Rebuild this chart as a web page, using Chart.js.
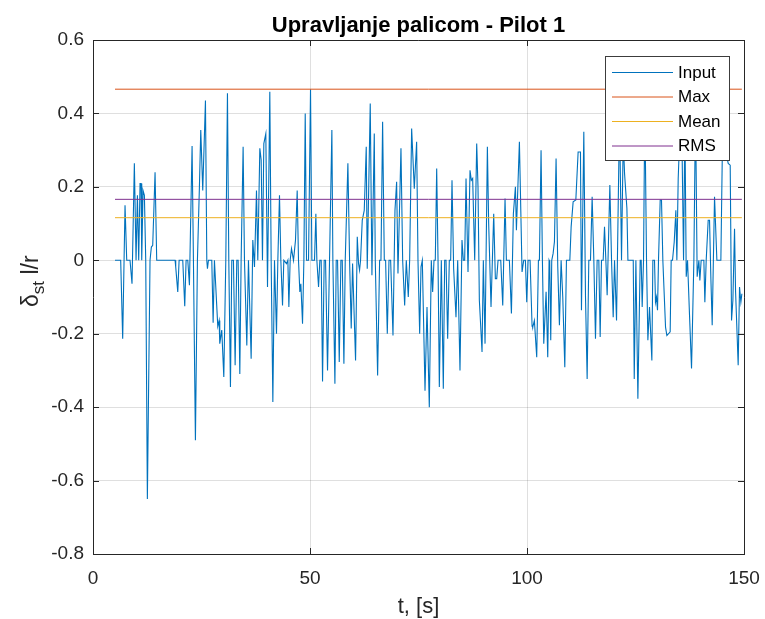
<!DOCTYPE html>
<html>
<head>
<meta charset="utf-8">
<script src="https://cdn.jsdelivr.net/npm/chart.js@4/dist/chart.umd.min.js"></script>
<style>
  html, body { margin: 0; padding: 0; background: #ffffff; }
  #wrap { width: 765px; height: 619px; }
</style>
</head>
<body>
<div id="wrap"><canvas id="c" width="765" height="619"></canvas></div>
<script>
// ---- data ----
const chartTitle = 'Upravljanje palicom - Pilot 1';
const xLabel = 't, [s]';
const seriesLabels = ['Input', 'Max', 'Mean', 'RMS'];
const xTicks = [0, 50, 100, 150];
const yTicks = [-0.8, -0.6, -0.4, -0.2, 0, 0.2, 0.4, 0.6];

const time1 = [5.07,6.38,6.84,7.38,7.77,8.53,8.99,9.53,9.92,10.23,10.53,10.84,11.07,11.23,11.53,11.84,12.15,12.53,13.14,13.45,13.76,14.3,14.68,18.91,19.06,19.53,19.84,20.68,21.14,21.45,21.84,22.22,22.83,23.14,23.6,24.06,24.52,24.83,25.29,25.91,26.22,26.37,26.6,27.37,27.68,27.98];
const stick1 = [0,0,-0.214,0.15,0,0,-0.064,0.264,0,0.177,0,0.209,0.209,0,0.19,0.177,0,-0.65,0,0.036,0.041,0.24,0,0,-0.018,-0.086,0,0,-0.125,0,0,-0.068,0.311,0,-0.49,0,0.2,0.355,0.19,0.435,0,-0.023,0,0,-0.17,0];

const time2 = [28.75,29.06,29.21,29.67,30.14,30.6,30.98,31.29,31.67,31.98,32.36,32.75,33.13,33.44,33.83,34.13,34.59,34.9,35.44,35.82,36.44,36.82,37.21,37.67,37.97,38.44,38.75,39.05,39.36,39.82,40.21,40.74,41.05,41.44,41.82,42.28,42.59,42.97,43.28,43.67,43.97,44.59,44.9,45.13,45.43,45.74,46.2,46.66,47.05,47.35,47.66,47.89,48.28,48.59,48.9,49.2,49.66,50.12,50.43,51.04,51.35,51.58,51.97,52.27,52.58,52.89];
const stick2 = [-0.18,-0.164,-0.227,-0.19,-0.318,0,0.455,0,-0.345,0,0,-0.286,0,0,-0.31,0,0.309,0,-0.232,0,-0.268,0.055,-0.018,0.19,0,0.305,0.273,0,0.318,0.345,-0.073,0.459,0,-0.386,0,-0.2,0,0.177,0,-0.123,0,-0.009,0,-0.127,0,0.032,0,0.055,0.19,0,-0.086,-0.064,-0.173,0,0.4,0,0,0.466,0,0,0.127,0,-0.073,0,0,-0.33];

const time3 = [53.27,53.58,54.04,54.5,55.04,55.27,55.74,56.04,56.35,56.74,57.12,57.43,57.81,58.12,58.73,59.12,59.5,59.81,60.5,60.89,61.19,61.42,61.65,62.04,62.5,62.96,63.19,63.88,64.27,64.81,65.04,65.58,66.04,66.35,66.73,67.12,67.42,67.81,68.2,68.58,69.12,69.58,69.96,70.27,70.96,71.35,71.81,72.19,72.65,72.96,73.42,74.03,74.57,74.88,75.27,75.58,75.88,76.5,76.96];
const stick3 = [0,0,-0.3,0,0.355,0,-0.336,0,0,-0.277,0,0,-0.282,0,0.264,0,-0.186,-0.009,-0.273,0.064,-0.009,-0.027,0,0.109,0.136,0.309,-0.023,0.427,-0.041,0.345,0,-0.314,0,0,0.377,0,0,-0.2,0,0,-0.205,0.136,0.214,-0.036,0.305,0,-0.123,0,-0.1,0,0.359,0.195,0.323,0,-0.2,-0.018,0,-0.355,-0.127];

const time4 = [77.18,77.49,77.95,78.26,78.57,78.87,79.19,79.5,79.8,80.26,80.72,81.03,81.34,81.72,82.1,82.41,82.72,83.1,83.64,84.03,84.56,85.02,85.33,85.64,85.95,86.41,86.87,87.17,87.48,87.95,88.41,88.71,89.02,89.64,89.94,90.33,90.87,91.17,91.71,92.33,92.71,93.02,93.33,93.95,94.41,94.94,95.25,95.94,96.41,96.86,97.33,97.56,98.25,98.86,99.25,99.63,99.94,100.25,100.71,101.17];
const stick4 = [-0.127,-0.4,0,-0.086,0,0,0.25,0,-0.345,0,-0.35,0,0,-0.214,0,0,0.218,-0.023,-0.155,0,-0.3,0.055,0,0,0.223,-0.032,0.245,0.218,0.223,0,0.318,0.2,-0.109,-0.25,0,-0.227,0.309,0.1,-0.127,0.127,-0.05,-0.05,0,0,-0.123,0.168,0,0,-0.145,0.127,0.2,0.082,0.323,-0.032,0,0,-0.114,0,0,-0.18];

const time5 = [101.32,101.7,102.24,102.63,102.86,103.24,103.55,103.86,104.4,104.78,105.09,105.24,105.47,105.7,106.01,106.32,106.7,107.09,107.47,107.86,108.24,108.71,109.09,109.87,110.17,110.63,111.25,111.78,112.32,112.55,113.09,113.48,113.86,114.24,114.63,115.01,115.4,115.78,116.16,116.55,116.86,117.16,117.55,117.86,118.17,118.47,119.09,119.48,119.86,120.17,120.63,121.32,121.78,122.17,122.48,123.02,123.25,124.48,124.71,125.09,125.55];
const stick5 = [-0.182,-0.164,-0.264,0,0,0.3,0,-0.227,-0.086,-0.264,0,-0.005,-0.218,0,0.018,0.05,0.277,-0.018,-0.177,0,-0.1,-0.291,0,0,0.091,0.159,0.164,0.295,0.295,-0.136,0.35,-0.1,-0.323,0,0,0.173,0,-0.214,0,0,-0.209,0,0,0.091,0,-0.095,0.205,0,-0.155,0,-0.164,0.4,0,0.33,0.236,0.141,0,0,-0.323,0,-0.377];

const time6 = [126.08,126.31,126.54,126.85,127.15,127.54,127.85,128.23,128.77,129.0,129.38,129.61,129.84,130.07,130.3,130.69,130.99,131.3,131.61,131.92,132.23,132.99,133.22,133.53,133.92,134.3,134.53,134.84,135.23,135.76,136.07,136.38,136.69,136.99,137.45,137.91,138.45,138.83,139.21,139.6,139.83,140.13,140.75,140.98,141.29,141.75,142.06,142.37,142.67,143.21,143.75,144.67,145.13,145.74,146.36,146.82,147.13,147.44,147.82,148.05,148.66,148.97,149.28,149.51];
const stick6 = [0,0,-0.127,0,0.42,0,-0.218,-0.127,-0.273,0,0,-0.114,-0.1,-0.136,0,0.164,0.164,0,-0.091,-0.182,-0.205,-0.195,0,0,0.05,0.136,0,0.223,0.35,0.273,0,0.38,-0.045,0,-0.15,-0.295,0,0.42,-0.045,0,-0.055,0,0,-0.114,0,0.109,0.109,-0.05,-0.177,0.173,0,0,0.4,0.3,0.264,0.259,-0.164,-0.109,0.086,-0.082,-0.286,-0.073,-0.114,-0.091];

const maxValue = 0.466;
const meanValue = 0.116;
const rmsValue = 0.166;

// ---- build datasets ----
const time = [].concat(time1, time2, time3, time4, time5, time6);
const stick = [].concat(stick1, stick2, stick3, stick4, stick5, stick6);
const inputPoints = time.map((t, i) => ({ x: t, y: stick[i] }));
const tStart = time[0], tEnd = time[time.length - 1];
const hLine = v => [{ x: tStart, y: v }, { x: tEnd, y: v }];

const FONT = "'Liberation Sans', Arial, Helvetica, sans-serif";
const AXIS_COLOR = '#262626';
const colors = ['#0072BD', '#D95319', '#EDB120', '#7E2F8E'];

const PLOT = { left: 93, right: 744, top: 40, bottom: 554 };

const decorPlugin = {
  id: 'decor',
  afterDraw(chart) {
    const ctx = chart.ctx;
    const a = chart.chartArea;
    const xs = chart.scales.x, ys = chart.scales.y;
    ctx.save();
    // box (top & right)
    ctx.strokeStyle = AXIS_COLOR;
    ctx.lineWidth = 1;
    ctx.beginPath();
    ctx.moveTo(a.left, a.top + 0.5); ctx.lineTo(a.right + 0.5, a.top + 0.5);
    ctx.moveTo(a.right + 0.5, a.top); ctx.lineTo(a.right + 0.5, a.bottom + 0.5);
    ctx.stroke();
    // inward tick marks
    const tl = 6;
    ctx.beginPath();
    xTicks.forEach(v => {
      const px = Math.round(xs.getPixelForValue(v)) + 0.5;
      ctx.moveTo(px, a.bottom); ctx.lineTo(px, a.bottom - tl);
      ctx.moveTo(px, a.top); ctx.lineTo(px, a.top + tl);
    });
    yTicks.forEach(v => {
      const py = Math.round(ys.getPixelForValue(v)) + 0.5;
      ctx.moveTo(a.left, py); ctx.lineTo(a.left + tl, py);
      ctx.moveTo(a.right, py); ctx.lineTo(a.right - tl, py);
    });
    ctx.stroke();

    // legend
    const lx = 605.5, ly = 56.5, lw = 124, lh = 104;
    ctx.fillStyle = '#ffffff';
    ctx.fillRect(lx, ly, lw, lh);
    ctx.strokeStyle = '#3c3c3c';
    ctx.strokeRect(lx, ly, lw, lh);
    ctx.font = '17px ' + FONT;
    ctx.textBaseline = 'middle';
    ctx.textAlign = 'left';
    chart.data.datasets.forEach((ds, i) => {
      const ry = 72 + i * 24.5;
      ctx.strokeStyle = ds.borderColor;
      ctx.lineWidth = 1;
      ctx.beginPath();
      ctx.moveTo(612, ry + 0.5); ctx.lineTo(673, ry + 0.5);
      ctx.stroke();
      ctx.fillStyle = '#000000';
      ctx.fillText(ds.label, 678, ry + 1);
    });

    // title
    ctx.fillStyle = '#000000';
    ctx.font = 'bold 22px ' + FONT;
    ctx.textAlign = 'center';
    ctx.textBaseline = 'alphabetic';
    ctx.fillText(chartTitle, (a.left + a.right) / 2, 32);

    // x label
    ctx.fillStyle = AXIS_COLOR;
    ctx.font = '22px ' + FONT;
    ctx.fillText(xLabel, (a.left + a.right) / 2, 613);

    // y label: delta with subscript "st" then " l/r"
    ctx.save();
    ctx.translate(38, 307);
    ctx.rotate(-Math.PI / 2);
    ctx.textAlign = 'left';
    ctx.textBaseline = 'alphabetic';
    ctx.font = '23px ' + FONT;
    let x = 0;
    ctx.fillText('δ', x, 0);
    x += ctx.measureText('δ').width;
    ctx.font = '17px ' + FONT;
    ctx.fillText('st', x, 6);
    x += ctx.measureText('st').width;
    ctx.font = '23px ' + FONT;
    ctx.fillText(' l/r', x, 0);
    ctx.restore();

    ctx.restore();
  }
};

new Chart(document.getElementById('c'), {
  type: 'line',
  data: {
    datasets: [
      { label: seriesLabels[0], data: inputPoints, borderColor: colors[0], borderWidth: 1.1, pointRadius: 0, tension: 0, order: 3 },
      { label: seriesLabels[1], data: hLine(maxValue), borderColor: colors[1], borderWidth: 1, pointRadius: 0, order: 2 },
      { label: seriesLabels[2], data: hLine(meanValue), borderColor: colors[2], borderWidth: 1, pointRadius: 0, order: 1 },
      { label: seriesLabels[3], data: hLine(rmsValue), borderColor: colors[3], borderWidth: 1, pointRadius: 0, order: 0 }
    ]
  },
  options: {
    responsive: false,
    animation: false,
    devicePixelRatio: 1,
    layout: { padding: { left: 0, right: 765 - PLOT.right, top: PLOT.top, bottom: 0 } },
    plugins: { legend: { display: false }, tooltip: { enabled: false }, title: { display: false } },
    scales: {
      x: {
        type: 'linear', min: 0, max: 150,
        afterFit: s => { s.height = 619 - PLOT.bottom; s.paddingLeft = 0; s.paddingRight = 0; },
        afterBuildTicks: s => { s.ticks = xTicks.map(v => ({ value: v })); },
        grid: { color: 'rgba(38,38,38,0.15)', drawTicks: false },
        border: { color: AXIS_COLOR, width: 1 },
        ticks: { padding: 13, color: AXIS_COLOR, font: { family: FONT, size: 19 }, maxRotation: 0,
                 callback: v => String(v) }
      },
      y: {
        type: 'linear', min: -0.8, max: 0.6,
        afterFit: s => { s.width = PLOT.left; s.paddingTop = 0; s.paddingBottom = 0; },
        afterBuildTicks: s => { s.ticks = yTicks.map(v => ({ value: v })); },
        grid: { color: 'rgba(38,38,38,0.15)', drawTicks: false },
        border: { color: AXIS_COLOR, width: 1 },
        ticks: { padding: 9, color: AXIS_COLOR, font: { family: FONT, size: 19 },
                 callback: v => (Math.abs(v) < 1e-9 ? '0' : (Math.round(v * 10) / 10).toFixed(1)) }
      }
    }
  },
  plugins: [decorPlugin]
});
</script>
</body>
</html>
